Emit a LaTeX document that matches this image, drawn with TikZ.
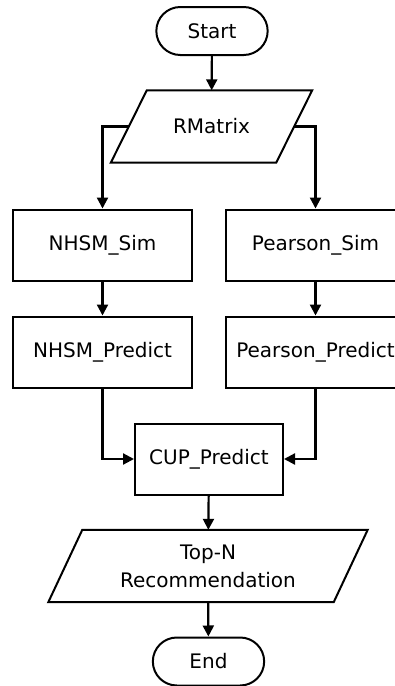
\documentclass[tikz,border=0pt]{standalone}
\usepackage{fontspec}
\setmainfont{DejaVu Sans}
\usepackage{tikz}
\usetikzlibrary{shapes.misc, arrows.meta}
\tikzset{
  thickline/.style={line width=2pt},
  box/.style={draw, thickline, rectangle, minimum width=179pt, minimum height=71pt, inner sep=0pt},
  term/.style={draw, thickline, rounded rectangle, minimum width=118pt, minimum height=48pt},
  io/.style={rectangle, minimum height=72pt, inner sep=0pt, align=center},
  flow/.style={line width=2.2pt, -{Triangle[length=11pt,width=11pt]}}
}

\begin{document}
\begin{tikzpicture}[x=1pt, y=-1pt, font=\fontsize{20}{28}\selectfont]

\useasboundingbox (0,0) rectangle (395,686);

\node[term] (start) at (212,31) {Start};
\node[io, minimum width=165pt] (rmat) at (211.5,126.5) {RMatrix};
\node[box] (nsim) at (102.5,245) {NHSM\_Sim};
\node[box] (psim) at (315.5,245) {Pearson\_Sim};
\node[box] (npred) at (102.5,352) {NHSM\_Predict};
\node[box] (ppred) at (315.5,352) {Pearson\_Predict};
\node[box, minimum width=148pt] (cup) at (209,459) {CUP\_Predict};
\node[io, minimum width=285pt] (topn) at (208,566) {Top-N\\Recommendation};
\node[term] (end) at (208.5,661.5) {End};

% parallelograms
\draw[thickline] ([xshift=18pt]rmat.north west) -- ([xshift=18pt]rmat.north east)
  -- ([xshift=-18pt]rmat.south east) -- ([xshift=-18pt]rmat.south west) -- cycle;
\draw[thickline] ([xshift=17pt]topn.north west) -- ([xshift=17pt]topn.north east)
  -- ([xshift=-17pt]topn.south east) -- ([xshift=-17pt]topn.south west) -- cycle;

\foreach \i/\j in {start/rmat, nsim/npred, psim/ppred, cup/topn, topn/end}
\draw[flow] (\i) -- (\j);

\draw[flow] (rmat.west) -| (nsim.north);
\draw[flow] (rmat.east) -| (psim.north);
\draw[flow] (npred.south) |- (cup.west);
\draw[flow] (ppred.south) |- (cup.east);

\end{tikzpicture}
\end{document}
